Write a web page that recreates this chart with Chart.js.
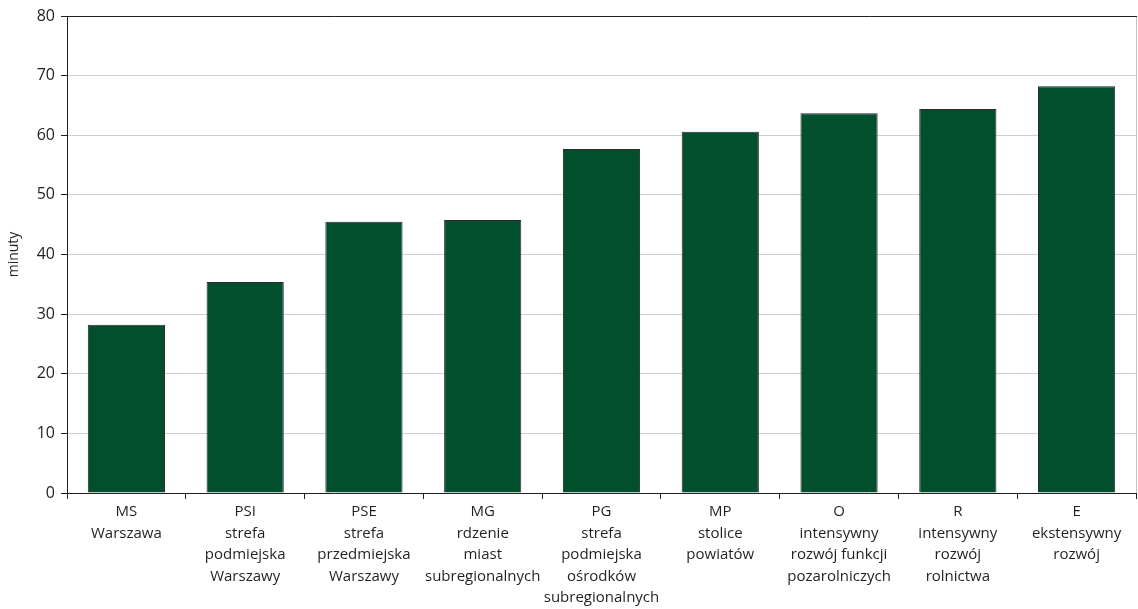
<!DOCTYPE html>
<html>
<head>
<meta charset="utf-8">
<script src="https://cdn.jsdelivr.net/npm/chart.js@4.4.1/dist/chart.umd.min.js"></script>
<style>
  html, body { margin: 0; padding: 0; background: #ffffff; }
  #wrap { width: 1138px; height: 609px; position: relative; }
</style>
</head>
<body>
<div id="wrap"><canvas id="chart"></canvas></div>
<script>
// Categories (multi-line axis labels)
const categories = [
  ["MS", "Warszawa"],
  ["PSI", "strefa", "podmiejska", "Warszawy"],
  ["PSE", "strefa", "przedmiejska", "Warszawy"],
  ["MG", "rdzenie", "miast", "subregionalnych"],
  ["PG", "strefa", "podmiejska", "ośrodków", "subregionalnych"],
  ["MP", "stolice", "powiatów"],
  ["O", "intensywny", "rozwój funkcji", "pozarolniczych"],
  ["R", "intensywny", "rozwój", "rolnictwa"],
  ["E", "ekstensywny", "rozwój"]
];

// Travel time in minutes
const minutes = [28.2, 35.4, 45.5, 45.8, 57.7, 60.6, 63.7, 64.4, 68.2];

// Value axis
const yTicks = [0, 10, 20, 30, 40, 50, 60, 70, 80];
const yTitle = "minuty";

const FONT = "'Open Sans', 'Noto Sans', sans-serif";
const TEXT = "#231f20";

// Frame: dark top line at the max value and a light right edge
const framePlugin = {
  id: "frame",
  afterDraw(chart) {
    const { ctx, chartArea: a } = chart;
    ctx.save();
    ctx.lineWidth = 1;
    ctx.strokeStyle = "#c4c4c4";
    ctx.beginPath();
    ctx.moveTo(a.right + 0.5, a.top);
    ctx.lineTo(a.right + 0.5, a.bottom);
    ctx.stroke();
    ctx.strokeStyle = "#231f20";
    ctx.beginPath();
    ctx.moveTo(a.left, a.top + 0.5);
    ctx.lineTo(a.right + 1, a.top + 0.5);
    ctx.stroke();
    ctx.restore();
  }
};

new Chart(document.getElementById("chart"), {
  type: "bar",
  data: {
    labels: categories,
    datasets: [{
      data: minutes,
      backgroundColor: "#024f2e",
      borderColor: "#2a2a2a",
      borderWidth: 1,
      categoryPercentage: 1,
      barPercentage: 0.65
    }]
  },
  options: {
    responsive: true,
    maintainAspectRatio: false,
    animation: false,
    layout: { padding: { top: 16, right: 2, left: 0, bottom: 0 } },
    plugins: { legend: { display: false }, tooltip: { enabled: false } },
    scales: {
      x: {
        offset: true,
        grid: {
          offset: true,
          drawOnChartArea: false,
          drawTicks: true,
          tickLength: 6,
          tickColor: "#231f20"
        },
        border: { display: true, color: "#231f20", width: 1 },
        ticks: {
          autoSkip: false,
          maxRotation: 0,
          minRotation: 0,
          padding: 2,
          color: TEXT,
          font: { family: FONT, size: 15, lineHeight: 1.44 }
        },
        afterFit(scale) { scale.height = 116; }
      },
      y: {
        min: 0,
        max: 80,
        afterBuildTicks(scale) { scale.ticks = yTicks.map(v => ({ value: v })); },
        grid: {
          color: "#cfcfcf",
          lineWidth: 1,
          tickLength: 6,
          tickColor: "#231f20"
        },
        border: { display: true, color: "#231f20", width: 1 },
        ticks: {
          padding: 6,
          color: TEXT,
          font: { family: FONT, size: 16 }
        },
        title: {
          display: true,
          text: yTitle,
          color: TEXT,
          padding: { top: 6, bottom: 0 },
          font: { family: FONT, size: 14 }
        },
        afterFit(scale) { scale.width = 67; }
      }
    }
  },
  plugins: [framePlugin]
});
</script>
</body>
</html>
